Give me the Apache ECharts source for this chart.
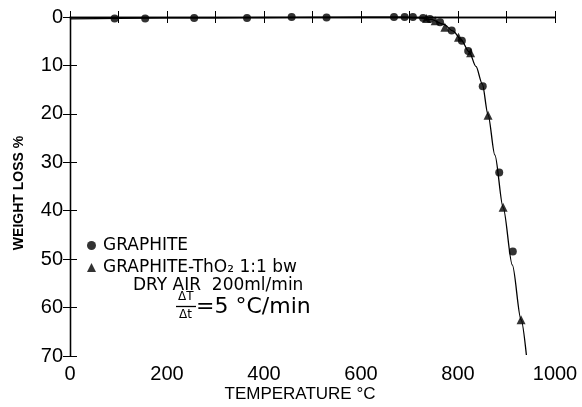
<!DOCTYPE html>
<html>
<head>
<meta charset="utf-8">
<script src="https://cdn.jsdelivr.net/npm/echarts@6/dist/echarts.min.js"></script>
<style>
html,body{margin:0;padding:0;background:#fff;}
#chart{width:582px;height:407px;}
</style>
</head>
<body>
<div id="chart"></div>
<script>
// Temperature (°C) and weight loss (%)
var graphiteTemp = [92, 155, 256, 365, 457, 529, 668, 690, 707, 728, 742, 763, 787, 808, 821, 851, 885, 913];
var graphiteLoss = [0.3, 0.3, 0.2, 0.2, 0.0, 0.1, 0.0, 0.0, 0.0, 0.2, 0.4, 1.1, 2.8, 4.9, 7.0, 14.3, 32.1, 48.4];
var thoriaTemp = [735, 753, 773, 801, 826, 862, 893, 930];
var thoriaLoss = [0.3, 0.8, 2.1, 4.2, 7.4, 20.3, 39.3, 62.5];
var curveTemp = [0, 100, 200, 300, 400, 500, 600, 680, 720, 745, 770, 790, 805, 823, 837, 850, 862, 876, 893, 912, 930, 941];
var curveLoss = [0.4, 0.3, 0.2, 0.15, 0.1, 0.05, 0, 0, 0.15, 0.5, 1.5, 2.9, 4.5, 7.2, 10.2, 13.8, 20.2, 28.5, 39.3, 51.2, 62.5, 69.8];
var xTicks = [0, 200, 400, 600, 800, 1000];
var yTicks = [0, 10, 20, 30, 40, 50, 60, 70];

function pairs(a, b) { return a.map(function (v, i) { return [v, b[i]]; }); }

var FONT = '"Liberation Sans", Arial, sans-serif';
var WIDE = '"DejaVu Sans", sans-serif';
var chart = echarts.init(document.getElementById('chart'), null, {renderer: 'canvas'});
var axisLine = {show: true, lineStyle: {color: '#000', width: 1.3}};
var option = {
  backgroundColor: '#fff',
  animation: false,
  grid: {left: 70, right: 27, top: 17, bottom: 51, containLabel: false},
  xAxis: [{
    type: 'value', min: 0, max: 1000, interval: 100,
    axisLine: axisLine,
    axisTick: {show: true, inside: true, length: 6, lineStyle: {color: '#000', width: 1}},
    splitLine: {show: false},
    axisLabel: {
      color: '#000', fontSize: 20, fontFamily: FONT, margin: 8,
      formatter: function (v) { return xTicks.indexOf(v) >= 0 ? String(v) : ''; }
    }
  }, {
    type: 'value', min: 0, max: 1000, interval: 100, position: 'top',
    axisLine: axisLine,
    axisTick: {show: true, inside: true, length: 6, lineStyle: {color: '#000', width: 1}},
    splitLine: {show: false}, axisLabel: {show: false}
  }],
  yAxis: [{
    type: 'value', min: 0, max: 70, interval: 10, inverse: true,
    axisLine: axisLine,
    axisTick: {show: true, inside: true, length: 7, lineStyle: {color: '#000', width: 1}},
    splitLine: {show: false},
    axisLabel: {
      color: '#000', fontSize: 20, fontFamily: FONT, margin: 7,
      formatter: function (v) { return yTicks.indexOf(v) >= 0 ? String(v) : ''; }
    }
  }, {
    type: 'value', min: 0, max: 70, interval: 10, inverse: true, position: 'right',
    axisLine: axisLine,
    axisTick: {show: true, inside: true, length: 7, lineStyle: {color: '#000', width: 1}},
    splitLine: {show: false}, axisLabel: {show: false}
  }],
  legend: {
    orient: 'vertical', left: 87, top: 237, padding: 0,
    itemWidth: 9, itemHeight: 9, itemGap: 5,
    textStyle: {color: '#000', fontSize: 17, fontFamily: WIDE, padding: [0, 0, 0, 2]},
    data: [
      {name: 'GRAPHITE', icon: 'circle'},
      {name: 'GRAPHITE-ThO₂ 1:1 bw', icon: 'triangle'}
    ]
  },
  graphic: [
    {type: 'text', left: 133, top: 277, style: {text: 'DRY AIR  200ml/min', fill: '#000', font: '17px ' + WIDE}},
    {type: 'text', left: 178, top: 291, style: {text: 'ΔT', fill: '#000', font: '12px ' + WIDE}},
    {type: 'line', shape: {x1: 176, y1: 306.5, x2: 196, y2: 306.5}, style: {stroke: '#000', lineWidth: 1.3}},
    {type: 'text', left: 179, top: 309, style: {text: 'Δt', fill: '#000', font: '12px ' + WIDE}},
    {type: 'text', left: 196, top: 296, style: {text: '=5 °C/min', fill: '#000', font: '22px ' + WIDE}},
    {type: 'text', x: 300, y: 394, style: {text: 'TEMPERATURE °C', fill: '#000', font: '17px ' + FONT, align: 'center', verticalAlign: 'middle'}},
    {type: 'text', x: 19, y: 193, rotation: Math.PI / 2, style: {text: 'WEIGHT LOSS %', fill: '#000', font: 'bold 14px ' + FONT, align: 'center', verticalAlign: 'middle'}}
  ],
  series: [
    {
      name: 'curve', type: 'line', data: pairs(curveTemp, curveLoss),
      smooth: 0.3, smoothMonotone: 'x', showSymbol: false, symbol: 'none',
      lineStyle: {color: '#000', width: 1.3}, silent: true, z: 2
    },
    {
      name: 'GRAPHITE', type: 'scatter', data: pairs(graphiteTemp, graphiteLoss),
      symbol: 'circle', symbolSize: 8, itemStyle: {color: '#000'}, z: 3
    },
    {
      name: 'GRAPHITE-ThO₂ 1:1 bw', type: 'scatter', data: pairs(thoriaTemp, thoriaLoss),
      symbol: 'triangle', symbolSize: 9, itemStyle: {color: '#000'}, z: 3
    }
  ]
};
chart.setOption(option);
</script>
</body>
</html>
